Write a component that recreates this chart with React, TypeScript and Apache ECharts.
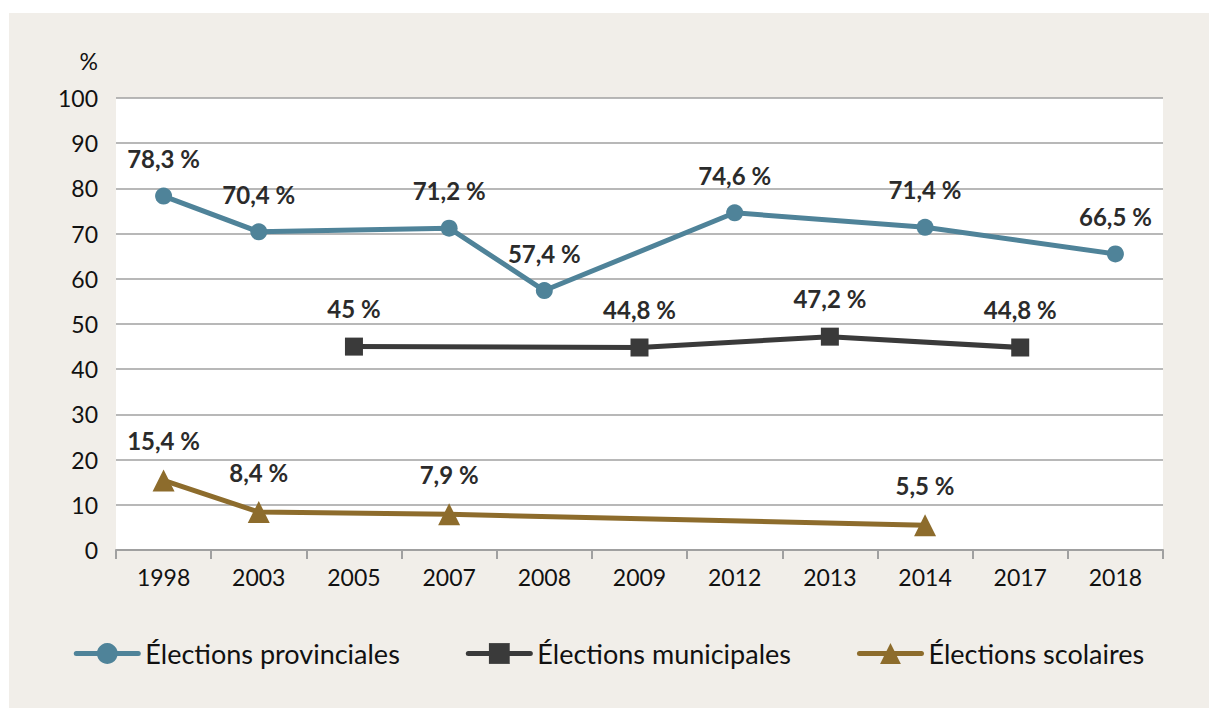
import React, { useEffect, useRef } from "react";
import * as echarts from "echarts";

const years = ["1998", "2003", "2005", "2007", "2008", "2009", "2012", "2013", "2014", "2017", "2018"];
const provinciales = [78.3, 70.4, null, 71.2, 57.4, null, 74.6, null, 71.4, null, 65.5];
const provincialesLabels = ["78,3 %", "70,4 %", "", "71,2 %", "57,4 %", "", "74,6 %", "", "71,4 %", "", "66,5 %"];
const municipales = [null, null, 45, null, null, 44.8, null, 47.2, null, 44.8, null];
const municipalesLabels = ["", "", "45 %", "", "", "44,8 %", "", "47,2 %", "", "44,8 %", ""];
const scolaires = [15.4, 8.4, null, 7.9, null, null, null, null, 5.5, null, null];
const scolairesLabels = ["15,4 %", "8,4 %", "", "7,9 %", "", "", "", "", "5,5 %", "", ""];
const yTicks = { min: 0, max: 100, interval: 10 };

const FONT = "Lato, 'Open Sans', sans-serif";

export default function App() {
  const ref = useRef<HTMLDivElement>(null);
  useEffect(() => {
    if (!ref.current) return;
    const chart = echarts.init(ref.current, null, { renderer: "svg" });
    const mkSeries = (name: string, data: any[], labels: string[], color: string, symbol: string, size: number) => ({
      name,
      type: "line",
      data,
      connectNulls: true,
      symbol,
      symbolSize: size,
      showAllSymbol: true,
      lineStyle: { color, width: 5, cap: "round" },
      itemStyle: { color },
      label: {
        show: true,
        position: "top",
        distance: 17,
        fontFamily: FONT,
        fontSize: 24,
        fontWeight: "bold",
        color: "#2b2b2b",
        formatter: (p: any) => labels[p.dataIndex],
      },
      emphasis: { disabled: true },
    });
    chart.setOption({
      animation: false,
      backgroundColor: "#f1eee9",
      textStyle: { fontFamily: FONT },
      grid: {
        left: 107,
        top: 85,
        width: 1047,
        height: 452,
        show: true,
        backgroundColor: "#ffffff",
        borderWidth: 0,
      },
      xAxis: {
        type: "category",
        data: years,
        boundaryGap: true,
        axisLine: { lineStyle: { color: "#a0a0a0", width: 2 } },
        axisTick: { show: true, length: 9, lineStyle: { color: "#a0a0a0", width: 2 } },
        axisLabel: { color: "#111", fontSize: 23, fontFamily: FONT, margin: 15 },
      },
      yAxis: {
        type: "value",
        min: yTicks.min,
        max: yTicks.max,
        interval: yTicks.interval,
        name: "%",
        nameLocation: "end",
        nameGap: 26,
        nameTextStyle: { color: "#111", fontSize: 23, fontFamily: FONT, align: "right", padding: [0, 18, 0, 0] },
        axisLine: { show: false },
        axisTick: { show: false },
        axisLabel: { color: "#111", fontSize: 23, fontFamily: FONT, margin: 18 },
        splitLine: { lineStyle: { color: "#a0a0a0", width: 1.5 } },
      },
      legend: {
        bottom: 36,
        left: "center",
        itemWidth: 62,
        itemHeight: 26,
        itemGap: 66,
        lineStyle: { width: 5 },
        textStyle: { color: "#111", fontSize: 27, fontFamily: FONT, padding: [0, 0, 0, 2] },
        data: ["Élections provinciales", "Élections municipales", "Élections scolaires"],
      },
      series: [
        mkSeries("Élections provinciales", provinciales, provincialesLabels, "#4f8399", "circle", 17),
        mkSeries("Élections municipales", municipales, municipalesLabels, "#3a3a3a", "rect", 18),
        mkSeries("Élections scolaires", scolaires, scolairesLabels, "#8d6c2c", "triangle", 22),
      ],
    });
    return () => chart.dispose();
  }, []);
  return (
    <div
      ref={ref}
      style={{ position: "absolute", left: 9, top: 13, width: 1200, height: 695 }}
    />
  );
}
